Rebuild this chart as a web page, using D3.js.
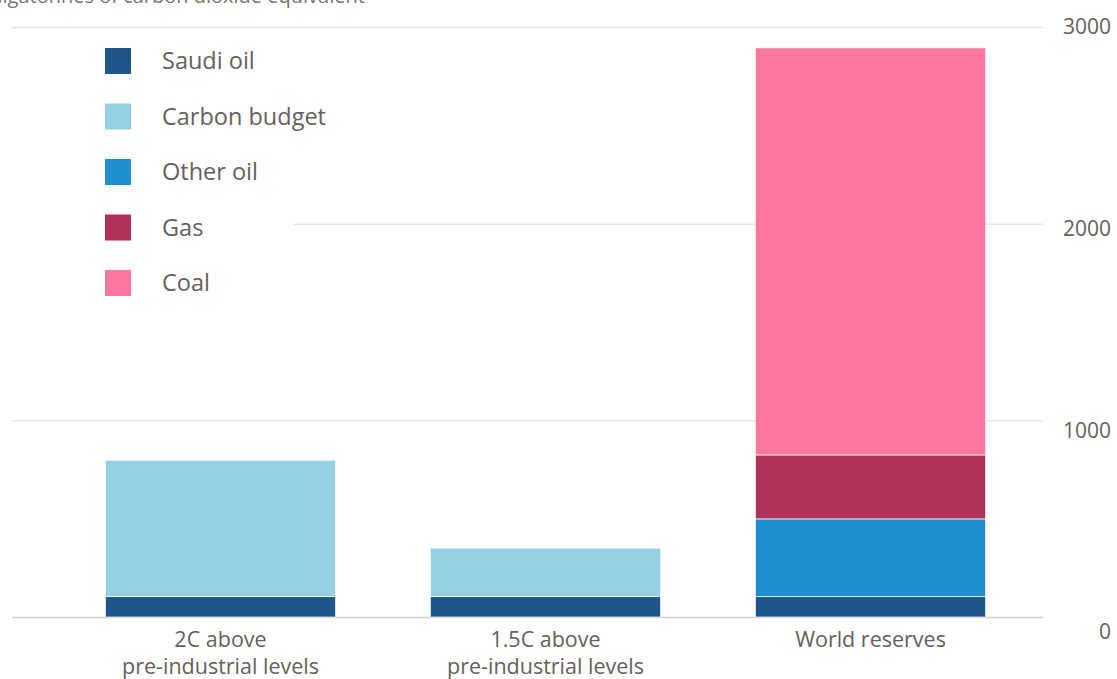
<!DOCTYPE html>
<html>
<head>
<meta charset="utf-8">
<script src="https://cdn.jsdelivr.net/npm/d3@7"></script>
<style>
  body { margin: 0; background: #fff; }
  text { font-family: "Open Sans", sans-serif; fill: #66605c; }
</style>
</head>
<body>
<script>
// chart size
const w = 1117;
const h = 679;

// data (gigatonnes CO2e)
const categories = ["2C above|pre-industrial levels", "1.5C above|pre-industrial levels", "World reserves"];
const seriesNames = ["Saudi oil", "Carbon budget", "Other oil", "Gas", "Coal"];
const saudiOil = [104, 104, 104];
const carbonBudget = [693, 246, 0];
const otherOil = [0, 0, 395];
const gas = [0, 0, 325];
const coal = [0, 0, 2070];
const colors = ["#1e558a", "#94d1e4", "#1f8fcf", "#b03259", "#fd779e"];
const yTicks = [0, 1000, 2000, 3000];

const svg = d3.select("body")
  .append("svg")
  .attr("width", w)
  .attr("height", h);

// title, mostly cut off at the top like the original
svg.append("text")
  .attr("x", -12)
  .attr("y", 3)
  .style("font-size", "20px")
  .style("fill", "#7a746f")
  .text("Gigatonnes of carbon dioxide equivalent");

// build rows for the stack
const rows = categories.map((c, i) => ({
  cat: c,
  "Saudi oil": saudiOil[i],
  "Carbon budget": carbonBudget[i],
  "Other oil": otherOil[i],
  "Gas": gas[i],
  "Coal": coal[i]
}));
const stacked = d3.stack().keys(seriesNames)(rows);

const xScale = d3.scaleBand()
  .domain(categories)
  .range([58, 1033])
  .paddingInner(0.292)
  .paddingOuter(0.146);
const yScale = d3.scaleLinear()
  .domain([0, 3000])
  .range([617, 27]);
// tick labels sit a little below the grid lines
const labelScale = d3.scaleLinear()
  .domain([0, 3000])
  .range([632, 27]);

// gridlines
svg.append("g")
  .selectAll("line")
  .data(yTicks)
  .enter()
  .append("line")
  .attr("x1", 12)
  .attr("x2", 1043)
  .attr("y1", d => yScale(d) + 0.5)
  .attr("y2", d => yScale(d) + 0.5)
  .attr("stroke", d => d === 0 ? "#d8cfc5" : "#ece3da")
  .attr("stroke-width", 1.5);

// right axis labels
const yAxis = d3.axisRight(labelScale)
  .tickValues(yTicks)
  .tickFormat(d3.format("d"))
  .tickSize(0)
  .tickPadding(0);
const yg = svg.append("g")
  .attr("transform", "translate(1111,0)")
  .call(yAxis);
yg.select(".domain").remove();
yg.selectAll("text")
  .attr("text-anchor", "end")
  .style("font-size", "21px")
  .style("font-family", "'Open Sans', sans-serif")
  .attr("fill", "#66605c");

// bars
svg.append("g")
  .selectAll("g")
  .data(stacked)
  .enter()
  .append("g")
  .attr("fill", (d, i) => colors[i])
  .selectAll("rect")
  .data(d => d.filter(s => s[1] - s[0] > 0))
  .enter()
  .append("rect")
  .attr("x", d => xScale(d.data.cat))
  .attr("y", d => yScale(d[1]))
  .attr("width", xScale.bandwidth())
  .attr("height", d => yScale(d[0]) - yScale(d[1]))
  .attr("stroke", "#ffffff")
  .attr("stroke-opacity", 0.7)
  .attr("stroke-width", 1);

// category labels
const xAxis = d3.axisBottom(xScale).tickSize(0).tickPadding(0);
const xg = svg.append("g")
  .attr("transform", "translate(0,617)")
  .call(xAxis);
xg.select(".domain").remove();
xg.selectAll("text").remove();
xg.selectAll(".tick")
  .append("text")
  .attr("text-anchor", "middle")
  .style("font-size", "21.5px")
  .style("font-family", "'Open Sans', sans-serif")
  .attr("fill", "#66605c")
  .selectAll("tspan")
  .data(d => d.split("|"))
  .enter()
  .append("tspan")
  .attr("x", 0)
  .attr("y", (d, i) => 30 + i * 27)
  .text(d => d);

// legend with a white box that hides the grid line behind it
svg.append("rect")
  .attr("x", 12)
  .attr("y", 40)
  .attr("width", 282)
  .attr("height", 270)
  .attr("fill", "#ffffff");
const legend = svg.append("g")
  .selectAll("g")
  .data(seriesNames)
  .enter()
  .append("g")
  .attr("transform", (d, i) => "translate(105," + (48 + i * 55.5) + ")");
legend.append("rect")
  .attr("width", 26)
  .attr("height", 26)
  .attr("fill", (d, i) => colors[i]);
legend.append("text")
  .attr("x", 57)
  .attr("y", 21)
  .style("font-size", "23.5px")
  .text(d => d);
</script>
</body>
</html>
